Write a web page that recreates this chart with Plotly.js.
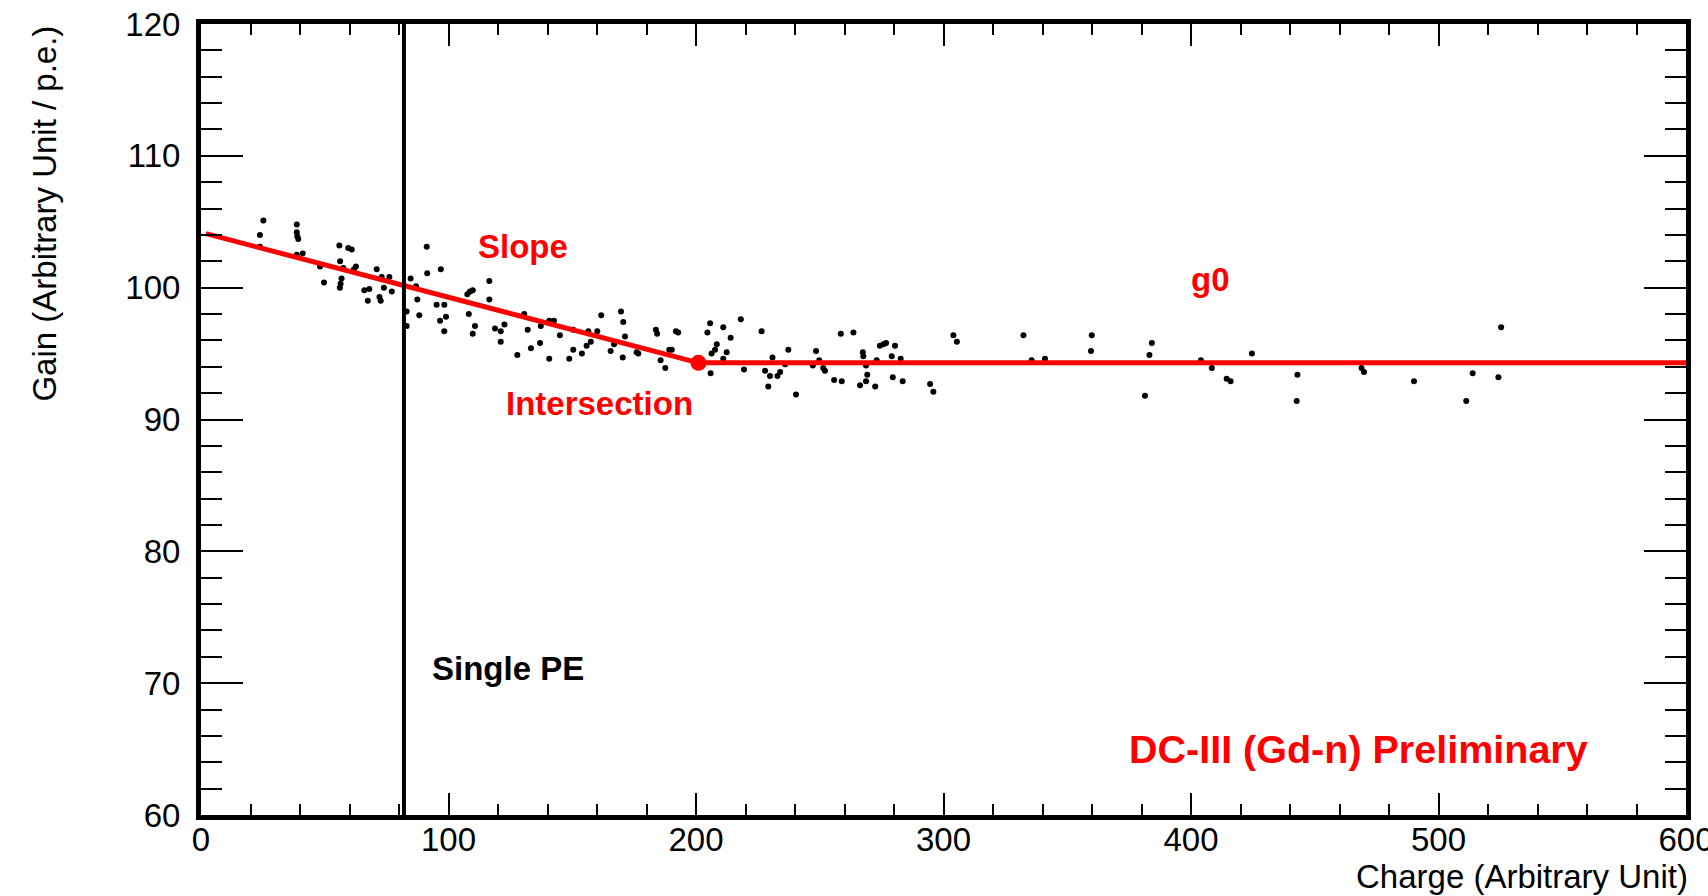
<!DOCTYPE html>
<html>
<head>
<meta charset="utf-8">
<script src="https://cdn.plot.ly/plotly-3.0.1.min.js"></script>
<style>
  html, body { margin: 0; padding: 0; background: white; }
  #chart { width: 1708px; height: 896px; }
</style>
</head>
<body>
<div id="chart"></div>
<script>
const charge = [
  23.8, 23.8, 25.2, 38.7, 38.7, 38.9, 39.3, 38.7, 41.1, 48.1, 49.7, 55.9, 59.5, 60.9, 56.2, 57.5, 62.6, 61.8, 56.8, 56.4,
  56.1, 66.0, 68.0, 67.4, 71.0, 73.0, 73.9, 76.1, 77.1, 72.1, 72.6, 83.1, 83.1, 84.7, 86.9, 87.4, 88.2, 91.2, 91.4, 96.9,
  95.2, 98.3, 96.6, 99.0, 98.3, 107.6, 108.7, 109.8, 108.2, 110.7, 109.8,
  116.5, 116.5, 118.8, 121.1, 122.6, 121.1, 127.8, 130.6, 132.0, 133.3, 137.0, 137.3, 140.7, 142.6, 140.7, 145.0, 148.8,
  150.4, 150.4, 153.9, 156.5, 155.8, 157.5, 160.1, 161.7, 165.5, 166.9, 169.7, 170.6, 171.3, 170.4, 176.0, 176.7, 183.8,
  184.3, 185.7, 187.6, 189.2, 190.2, 191.9, 192.8, 204.6, 205.7, 208.4, 207.7, 206.3, 211.0, 212.4, 211.0, 205.9, 214.0,
  218.1, 219.4,
  226.5, 230.9, 227.9, 229.9, 232.9, 234.0, 229.2, 237.3, 236.0, 240.4, 248.5, 249.8, 247.2, 251.4, 252.1, 255.8, 258.9,
  258.5, 263.6, 267.4, 267.6, 268.7, 269.2, 268.7, 266.3, 272.4, 273.0, 274.3, 275.7, 276.8, 279.1, 280.4, 282.7, 279.5,
  283.5, 294.6, 295.9, 304.0, 305.4, 332.3, 335.6, 341.0,
  359.9, 359.6, 384.2, 383.2, 381.4, 404.0, 408.4, 414.4, 416.0, 424.6, 443.0, 442.7,
  468.9, 469.9, 490.1, 513.8, 511.2, 524.2, 525.3
];
const gain = [
  104.0, 103.1, 105.1, 104.8, 104.2, 103.9, 103.7, 102.5, 102.6, 101.6, 100.4, 103.2, 103.0, 102.9, 102.0, 101.5, 101.6, 101.4, 100.7, 100.3,
  100.0, 99.8, 99.9, 99.0, 101.4, 100.8, 100.0, 100.8, 99.7, 99.3, 99.0, 98.2, 97.1, 100.7, 100.1, 99.1, 97.9, 103.1, 101.1, 101.4,
  98.7, 98.7, 97.5, 97.8, 96.7, 99.5, 99.7, 99.8, 98.0, 97.1, 96.5,
  100.5, 99.1, 96.9, 96.7, 97.2, 95.9, 94.9, 98.0, 96.8, 95.4, 95.8, 97.1, 97.5, 97.5, 94.6, 96.4, 94.6,
  95.3, 96.8, 95.0, 96.7, 95.6, 95.9, 96.7, 97.9, 95.2, 95.7, 98.2, 97.4, 96.3, 94.7, 95.1, 95.0, 96.8,
  96.5, 94.5, 93.9, 95.3, 95.3, 96.7, 96.6, 96.6, 97.3, 95.7, 95.3, 95.0, 97.0, 95.1, 94.6, 93.5, 96.2,
  97.6, 93.8,
  96.7, 94.7, 93.7, 93.3, 93.3, 93.6, 92.5, 95.3, 94.2, 91.9, 95.2, 94.5, 94.1, 93.9, 93.7, 93.0, 92.9,
  96.5, 96.6, 95.1, 94.8, 94.1, 93.4, 92.9, 92.6, 92.5, 94.5, 95.6, 95.7, 95.8, 94.8, 95.6, 94.6, 93.2,
  92.9, 92.7, 92.1, 96.4, 95.9, 96.4, 94.5, 94.6,
  96.4, 95.2, 95.8, 94.9, 91.8, 94.5, 93.9, 93.1, 92.9, 95.0, 93.4, 91.4,
  93.9, 93.6, 92.9, 93.5, 91.4, 93.2, 97.0
];

// Broken-line fit: slope part then constant g0
const fitCharge = [2, 201, 600];
const fitGain = [104.1, 94.3, 94.3];
const intersectionCharge = [201];
const intersectionGain = [94.3];

// Single photo-electron charge marker
const singlePeCharge = [82, 82];
const singlePeGain = [60, 120];

const xRange = [0, 600];
const yRange = [60, 120];
const xTicks = [0, 100, 200, 300, 400, 500, 600];
const yTicks = [60, 70, 80, 90, 100, 110, 120];

const labels = [
  {text: 'Slope', x: 130, y: 103.1, color: '#ff0000', size: 33},
  {text: 'g0', x: 408, y: 100.6, color: '#ff0000', size: 33},
  {text: 'Intersection', x: 161, y: 91.2, color: '#ff0000', size: 33},
  {text: 'Single PE', x: 124, y: 71.1, color: '#000000', size: 33},
  {text: 'DC-III (Gd-n) Preliminary', x: 467.5, y: 65.0, color: '#ff0000', size: 39.5}
];

const FONT = 'Liberation Sans, Arial, Helvetica, sans-serif';

const traces = [
  {
    x: charge, y: gain, type: 'scatter', mode: 'markers',
    marker: {color: 'black', size: 6}, hoverinfo: 'x+y'
  },
  {
    x: fitCharge, y: fitGain, type: 'scatter', mode: 'lines',
    line: {color: '#ff0000', width: 5}
  },
  {
    x: intersectionCharge, y: intersectionGain, type: 'scatter', mode: 'markers',
    marker: {color: '#ff0000', size: 16}
  },
  {
    x: singlePeCharge, y: singlePeGain, type: 'scatter', mode: 'lines',
    line: {color: 'black', width: 4}
  }
];

const annotations = labels.map(l => ({
  text: '<b>' + l.text + '</b>', x: l.x, y: l.y, xref: 'x', yref: 'y',
  xanchor: 'center', yanchor: 'middle', showarrow: false,
  font: {family: FONT, size: l.size, color: l.color}
}));

annotations.push({
  text: 'Charge (Arbitrary Unit)', xref: 'paper', yref: 'paper',
  x: 1.0, y: -0.078, xanchor: 'right', yanchor: 'middle', showarrow: false, xshift: 4,
  font: {family: FONT, size: 33, color: 'black'}
});
annotations.push({
  text: 'Gain (Arbitrary Unit / p.e.)', xref: 'paper', yref: 'paper',
  x: -0.106, y: 1.0, xanchor: 'center', yanchor: 'top', textangle: -90, showarrow: false,
  font: {family: FONT, size: 33, color: 'black'}
});

const layout = {
  width: 1708, height: 896,
  margin: {l: 201, r: 22, t: 24, b: 81, pad: 0},
  paper_bgcolor: 'white', plot_bgcolor: 'white',
  showlegend: false,
  font: {family: FONT, color: 'black'},
  xaxis: {
    range: xRange, tickmode: 'array', tickvals: xTicks, ticktext: xTicks.map(String),
    ticks: 'inside', ticklen: 22, tickwidth: 2, tickcolor: 'black',
    showline: true, linewidth: 5, linecolor: 'black', mirror: 'allticks',
    showgrid: false, zeroline: false,
    tickfont: {family: FONT, size: 33, color: 'black'},
    ticklabelstandoff: -9, ticklabeloverflow: 'allow',
    minor: {tick0: 0, dtick: 20, ticks: 'inside', ticklen: 11, tickwidth: 2, tickcolor: 'black', showgrid: false}
  },
  yaxis: {
    range: yRange, tickmode: 'array', tickvals: yTicks, ticktext: yTicks.map(String),
    ticks: 'inside', ticklen: 42, tickwidth: 2, tickcolor: 'black',
    showline: true, linewidth: 5, linecolor: 'black', mirror: 'allticks',
    showgrid: false, zeroline: false,
    tickfont: {family: FONT, size: 33, color: 'black'},
    ticklabelstandoff: 9, ticklabeloverflow: 'allow',
    minor: {tick0: 60, dtick: 2, ticks: 'inside', ticklen: 21, tickwidth: 2, tickcolor: 'black', showgrid: false}
  },
  annotations: annotations
};

Plotly.newPlot('chart', traces, layout, {displayModeBar: false, staticPlot: true});
</script>
</body>
</html>
